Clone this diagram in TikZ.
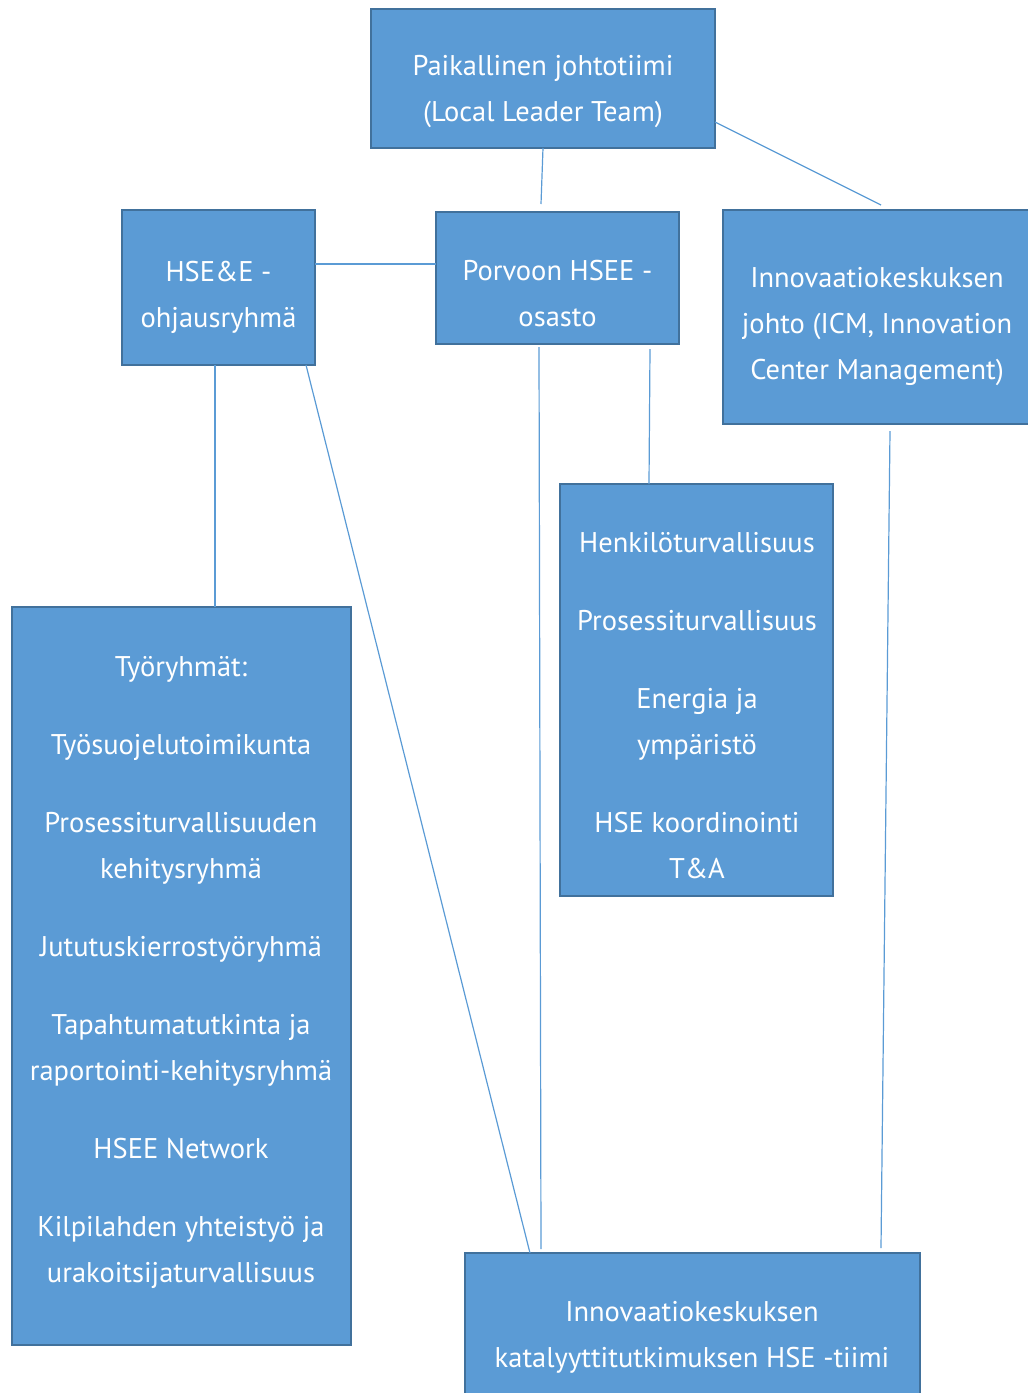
\documentclass[tikz,border=0pt]{standalone}
\usepackage{fontspec}
\setmainfont{PT Sans}
\usepackage{xcolor}
\definecolor{boxfill}{HTML}{5B9BD5}
\definecolor{boxedge}{HTML}{41719C}
\definecolor{linkblue}{HTML}{5B9BD5}

\tikzset{
  orgbox/.style={draw=boxedge, fill=boxfill, line width=2.5pt, inner sep=0pt, outer sep=0pt},
  orgtext/.style={text=white, align=center, inner sep=0pt, font=\fontsize{28.5}{46}\selectfont},
  orglink/.style={draw=linkblue, line width=1.2pt}
}

\begin{document}
\begin{tikzpicture}[x=1pt, y=-1pt]
    \useasboundingbox (0,0) rectangle (1028,1393);

    % boxes
    \node[orgbox, minimum width=344pt, minimum height=139pt] (llt) at (543,78.5) {};
    \node[orgbox, minimum width=193pt, minimum height=155pt] (hsee) at (218.5,287.5) {};
    \node[orgbox, minimum width=243pt, minimum height=132pt] (porvoo) at (557.5,278) {};
    \node[orgbox, minimum width=316pt, minimum height=214pt] (icm) at (881,317) {};
    \node[orgbox, minimum width=273pt, minimum height=412pt] (henk) at (696.5,690) {};
    \node[orgbox, minimum width=339pt, minimum height=738pt] (tyo) at (181.5,976) {};
    \node[orgbox, minimum width=455pt, minimum height=166pt] (katal) at (692.5,1336) {};

    % texts
    \node[orgtext] (lltText) at (543,92) {Paikallinen johtotiimi\\(Local Leader Team)};
    \node[orgtext] (hseeText) at (218.5,297.5) {HSE\&E -\\ohjausryhmä};
    \node[orgtext] (porvooText) at (557.5,294) {Porvoon HSEE -\\osasto};
    \node[orgtext] (icmText) at (877,327) {Innovaatiokeskuksen\\johto (ICM, Innovation\\Center Management)};
    \node[orgtext] (henkText) at (697,706) {Henkilöturvallisuus\\[32pt]Prosessiturvallisuus\\[32pt]Energia ja\\ympäristö\\[32pt]HSE koordinointi\\T\&A};
    \node[orgtext] (tyoText) at (181,972) {Työryhmät:\\[32pt]Työsuojelutoimikunta\\[32pt]Prosessiturvallisuuden\\kehitysryhmä\\[32pt]Jututuskierrostyöryhmä\\[32pt]Tapahtumatutkinta ja\\raportointi-kehitysryhmä\\[32pt]HSEE Network\\[32pt]Kilpilahden yhteistyö ja\\urakoitsijaturvallisuus};
    \node[orgtext] (katalText) at (692,1337) {Innovaatiokeskuksen\\katalyyttitutkimuksen HSE -tiimi};

    % links
    \draw[orglink] (llt.south) -- ([xshift=-16.5pt, yshift=8pt]porvoo.north);
    \draw[orglink] ([yshift=-43.5pt]llt.east) -- ([yshift=5pt]icm.north);
    \draw[orglink] ([yshift=23.5pt]hsee.east) -- ([yshift=14pt]porvoo.west);
    \draw[orglink] ([xshift=-3.5pt]hsee.south) -- ([xshift=33.5pt]tyo.north);
    \draw[orglink] ([xshift=87.5pt]hsee.south) -- ([xshift=-162.5pt]katal.north);
    \draw[orglink] ([xshift=-18.5pt, yshift=-3pt]porvoo.south) -- ([xshift=-151.5pt, yshift=4pt]katal.north);
    \draw[orglink] ([xshift=92.5pt, yshift=-5pt]porvoo.south) -- ([xshift=-47.5pt]henk.north);
    \draw[orglink] ([xshift=9pt, yshift=-7pt]icm.south) -- ([xshift=188.5pt, yshift=5pt]katal.north);
\end{tikzpicture}
\end{document}
